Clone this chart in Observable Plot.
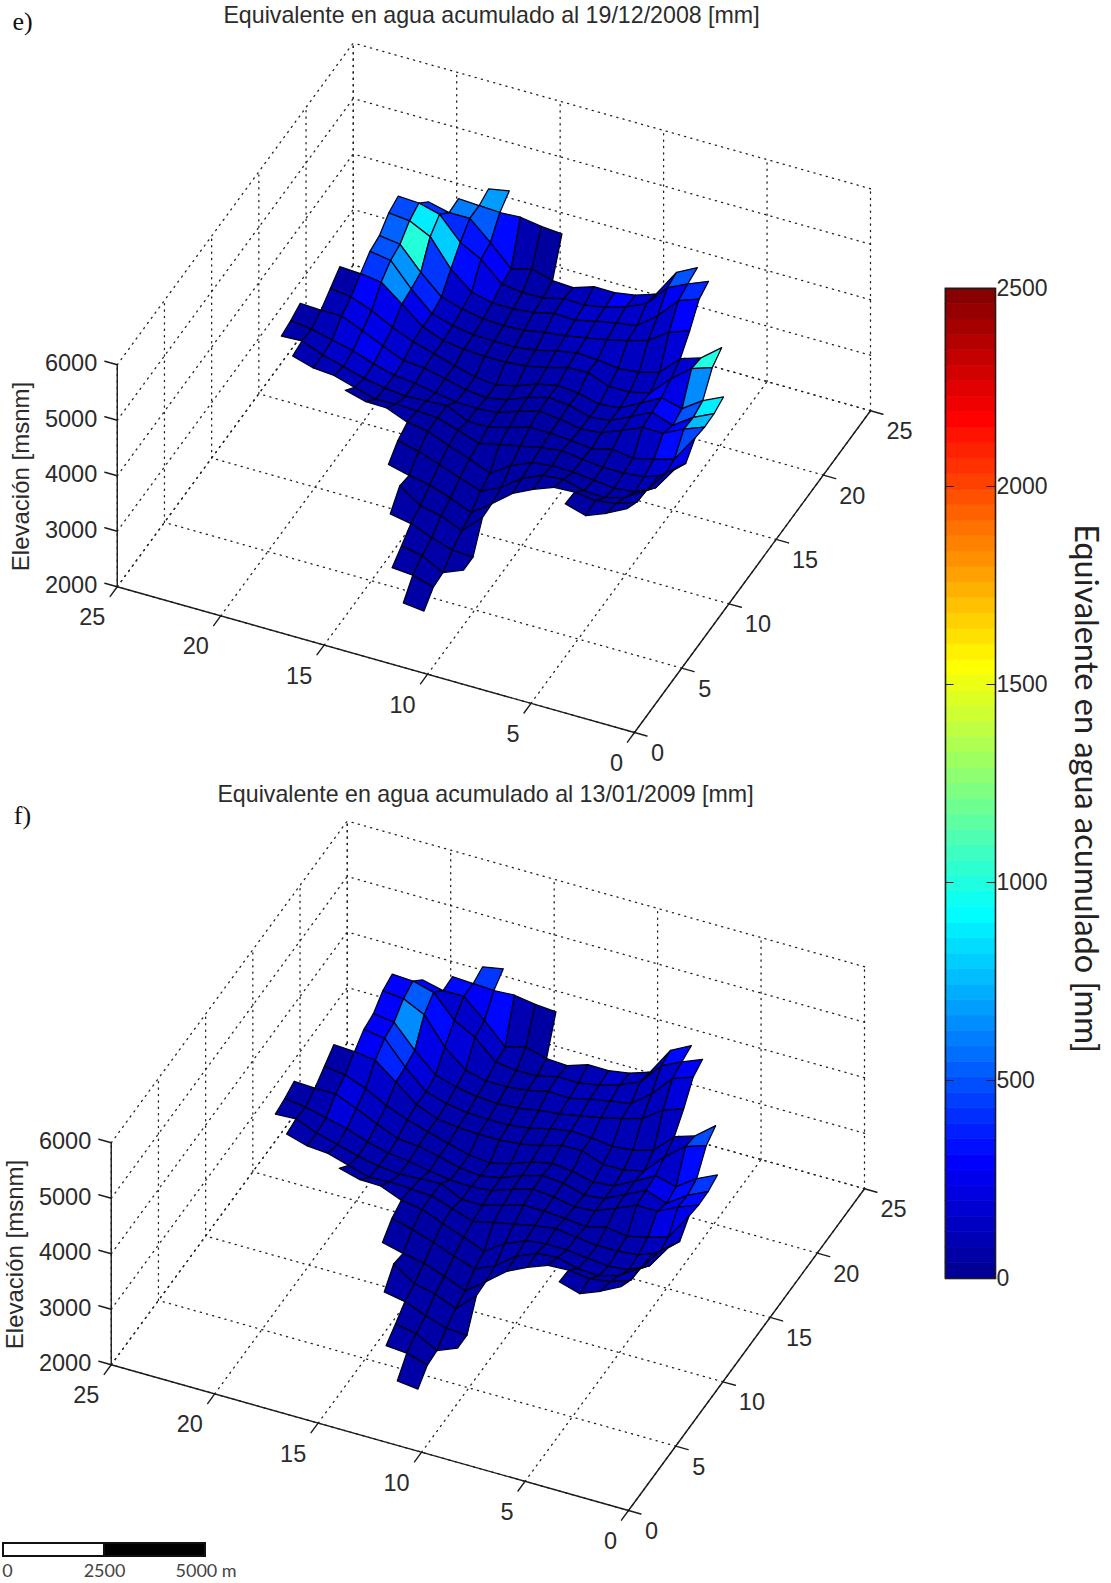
<!DOCTYPE html>
<html><head><meta charset="utf-8">
<script src="https://cdn.jsdelivr.net/npm/d3@7"></script>
<script src="https://cdn.jsdelivr.net/npm/@observablehq/plot@0.6"></script>
<style>
html,body{margin:0;padding:0;background:#fff}
#page{position:relative;width:1111px;height:1583px;overflow:hidden;background:#fff}
</style></head><body><div id="page"></div>
<script>
// ---------- values ----------
const gridTicks=[0,5,10,15,20,25];
const elevationTicks=[2000,3000,4000,5000,6000];
const colorTicks=[0,500,1000,1500,2000,2500];
const scaleStops=[0,2500,5000];

// grid rows: u index, first v index, elevation in m at each v
const rowU=[24,23,22,21,20,19,18,17,16,15,14,13,12,11,10,9,8,7,6,5,4];
const rowFirstV=[17,14,7,6,6,6,4,4,3,3,3,3,3,3,3,3,4,11,11,12,12];
const elevationRows=[
[4410,4340],
[4180,4210,4270,4250,4270,4290],
[4540,4350,3850,3730,3670,3670,3550,3570,3670,3570,3940,4270,4270,4360],
[4630,4480,4300,3910,3750,3640,3570,3580,3490,3480,3530,3870,4070,4470,4570,4590],
[4540,4410,4030,3750,3690,3620,3530,3550,3460,3420,3420,3510,3820,4300,4480,4520],
[4200,4070,3820,3710,3620,3550,3480,3440,3370,3350,3370,3440,3550,3890,4290,4340],
[4340,4050,3930,3580,3480,3440,3490,3510,3440,3350,3300,3300,3310,3370,3480,3820,4230,4290],
[4210,4090,3800,3440,3350,3350,3490,3480,3370,3300,3260,3260,3280,3330,3480,3780,4070,4120,4140],
[4020,3850,3600,3690,3490,3300,3260,3350,3390,3310,3170,3080,3120,3220,3330,3440,3590,3790,3930,3980],
[3950,3780,3530,3660,3480,3300,3260,3370,3400,3300,3150,3080,3120,3220,3300,3330,3490,3660,3820,3820,3840],
[3940,3800,3620,3620,3460,3310,3280,3350,3390,3280,3150,3120,3130,3190,3260,3300,3400,3530,3620,3710,3760],
[3980,3490,3380,3300,3350,3260,3300,3330,3330,3220,3120,3120,3300,3280,3260,3300,3370,3480,3580,3730,3710],
[3750,3440,3300,3260,3260,3300,3350,3300,3220,3150,3060,3190,3310,3330,3350,3330,3440,3550,3580,3690],
[3910,3440,3260,3220,3260,3300,3310,3260,3100,2860,3010,3150,3300,3360,3510,3520,3620,3730],
[4050,3620,3390,3280,3300,3400,3370,3210,2940,2770,2900,3040,3170,3260],
[4200,3640,3510,3460,3510,3490,3350,3170,2880,2610,2770,2900,2970,3060],
[3760,3570,3420,3530,null,null,null,2860,2520,2680,2760,3010],
[2380,2400,2520,2670,2740],
[2380,2230,2430,2500],
[2200,2310,2340],
[2000,2040]
];

// accumulated water per cell (cell named by its lower u, v corner)
const cellU=[23,22,21,20,19,18,17,16,15,14,13,12,11,10,9,8,7,6,5,4];
const cellFirstV=[17,14,7,6,6,6,4,4,3,3,3,3,3,3,3,4,11,11,12,12];
const sweDec2008=[
[680],
[40,90,320,520,600],
[500,220,150,290,140,120,90,70,90,290,340,400,420],
[400,280,170,150,150,150,130,90,80,90,220,320,800,875,480],
[300,150,130,130,130,130,110,80,70,80,110,160,430,1010,540],
[190,130,130,130,130,120,90,70,60,70,90,130,380,660,500],
[1000,170,150,120,110,110,110,90,70,60,60,70,90,140,240,640,430],
[640,230,280,130,110,100,90,80,70,60,60,70,80,110,160,250,300,60],
[880,500,310,130,110,90,80,70,60,60,50,60,70,80,110,170,230,220,100,60],
[760,300,170,120,90,80,70,60,50,50,50,60,70,80,110,190,260,190,110,60],
[470,320,130,100,80,70,60,50,50,50,50,50,60,70,80,130,160,150,100,70],
[240,170,110,80,70,60,50,50,50,50,50,50,50,60,70,80,100,100,90],
[170,120,90,70,60,50,50,50,50,50,50,50,50,60,60,60],
[140,100,70,60,50,50,50,50,50,50,50,50,50],
[120,80,60,50,50,50,50,50,50,50,50,50,50],
[70,60,50,null,null,null,null,50,50,50,50],
[60,60,60,60],
[60,60,60],
[60,60],
[60]
];
const sweJan2009=[
[430],
[50,90,310,280,320],
[320,150,110,150,100,90,80,70,90,150,150,170,300],
[280,160,120,110,110,110,100,80,70,80,110,190,320,520,300],
[200,120,100,100,100,100,90,70,60,70,90,120,230,640,300],
[130,100,100,100,100,90,80,70,60,70,80,100,200,430,280],
[480,130,120,100,90,90,90,80,70,60,60,70,80,100,140,380,280],
[320,160,190,100,90,80,80,70,70,60,60,70,70,90,100,150,170,60],
[430,320,250,100,90,80,70,70,60,60,60,60,70,70,80,100,130,210,80,60],
[320,240,130,90,80,70,70,60,60,60,60,60,60,70,80,90,130,200,90,60],
[260,220,100,80,70,70,60,60,60,60,60,60,60,70,70,80,90,100,80,70],
[160,120,80,70,70,60,60,60,60,60,60,60,60,60,70,70,80,80,80],
[140,100,80,70,60,60,60,60,60,60,60,60,60,60,60,60],
[120,90,70,60,60,60,60,60,60,50,50,50,50],
[110,80,60,60,60,50,50,50,50,50,50,50,50],
[70,60,60,null,null,null,null,50,50,50,50],
[60,60,60,60],
[60,60,60],
[60,60],
[60]
];

// jet colour map of the bar: 64 bands over 0..2500
const jetStops=[0,297,922,1547,2172,2500];
const jetColors=["#00008f","#0000ff","#00ffff","#ffff00","#ff0000","#800000"];
const bandCount=64;

// ---------- view of the 3-D box (orthographic) ----------
const view={ox:634,oy:732,ux:9.44,uy:-12.87,vx:-20.69,vy:-5.83,zk:0.0555};
const px=(u,v)=>view.ox+view.ux*u+view.vx*v;
const py=(u,v,z)=>view.oy+view.uy*u+view.vy*v-view.zk*(z-2000);
const elevationAt=new Map();
rowU.forEach((u,i)=>elevationRows[i].forEach((z,k)=>{if(z!=null)elevationAt.set(u+"_"+(rowFirstV[i]+k),z)}));

function quads(table){
  const out=[];
  cellU.forEach((u,i)=>{
    const row=table[i];
    for(let k=row.length-1;k>=0;k--){
      const v=cellFirstV[i]+k, swe=row[k];
      if(swe==null) continue;
      const corners=[[u,v],[u+1,v],[u+1,v+1],[u,v+1]];
      if(!corners.every(([a,b])=>elevationAt.has(a+"_"+b))) continue;
      corners.forEach(([a,b])=>out.push({id:u+"_"+v,swe,u:a,v:b,z:elevationAt.get(a+"_"+b)}));
    }
  });
  return out;
}
function seg(list,id,a,b){ list.push({id,...a},{id,...b}); }
function gridLines(){
  const g=[];
  for(const k of gridTicks){
    seg(g,"fu"+k,{u:k,v:0,z:2000},{u:k,v:25,z:2000});
    seg(g,"fv"+k,{u:0,v:k,z:2000},{u:25,v:k,z:2000});
    seg(g,"wu"+k,{u:25,v:k,z:2000},{u:25,v:k,z:6000});
    seg(g,"wv"+k,{u:k,v:25,z:2000},{u:k,v:25,z:6000});
  }
  for(const z of elevationTicks){
    seg(g,"hu"+z,{u:25,v:0,z},{u:25,v:25,z});
    seg(g,"hv"+z,{u:0,v:25,z},{u:25,v:25,z});
  }
  return g;
}
const axisLines=[];
seg(axisLines,"a",{u:0,v:0,z:2000},{u:25,v:0,z:2000});
seg(axisLines,"b",{u:0,v:0,z:2000},{u:0,v:25,z:2000});
seg(axisLines,"c",{u:0,v:25,z:2000},{u:0,v:25,z:6000});
for(const k of gridTicks){
  seg(axisLines,"tu"+k,{u:k,v:0,z:2000},{u:k,v:-0.6,z:2000});
  seg(axisLines,"tv"+k,{u:0,v:k,z:2000},{u:-0.75,v:k,z:2000});
}
for(const z of elevationTicks) seg(axisLines,"tz"+z,{u:0,v:25,z},{u:0,v:25.6,z});

const sans="'Liberation Sans',Arial,sans-serif";
const ink="#2b2b2b";
const colorOpts={type:"linear",domain:jetStops,range:jetColors,interpolate:"rgb"};

function panel({title,letter,table,dx,dy,titleX,titleY,letterY,w,h}){
  const X=d=>px(d.u,d.v)+dx, Y=d=>py(d.u,d.v,d.z)+dy;
  return Plot.plot({
    width:w,height:h,margin:0,
    style:{background:"transparent",overflow:"visible"},
    x:{domain:[0,w],range:[0,w],axis:null},
    y:{domain:[0,h],range:[0,h],axis:null},
    color:colorOpts,
    marks:[
      Plot.line(gridLines(),{x:X,y:Y,z:"id",stroke:"#222",strokeWidth:1.3,strokeDasharray:"1.2,5.2",strokeLinecap:"round"}),
      Plot.line(axisLines,{x:X,y:Y,z:"id",stroke:"#1c1c1c",strokeWidth:1.4}),
      Plot.line(quads(table),{x:X,y:Y,z:"id",fill:"swe",stroke:"#000018",strokeWidth:1.25,curve:"linear-closed"}),
      Plot.text(gridTicks,{x:k=>px(k,0)+dx+(k<10?23:29),y:k=>py(k,0,2000)+dy+21,text:String,fontSize:23.5,fontFamily:sans,fill:ink}),
      Plot.text(gridTicks,{x:k=>px(0,k)+dx-(k<10?18:25),y:k=>py(0,k,2000)+dy+31,text:String,fontSize:23.5,fontFamily:sans,fill:ink}),
      Plot.text(elevationTicks,{x:()=>px(0,25)+dx-20,y:z=>py(0,25,z)+dy-1,text:String,textAnchor:"end",fontSize:23.5,fontFamily:sans,fill:ink}),
      Plot.text(["Elevación [msnm]"],{x:()=>21+dx,y:()=>476+dy,text:d=>d,rotate:-90,fontSize:24,fontFamily:sans,fill:ink}),
      Plot.text([title],{x:()=>titleX,y:()=>titleY,text:d=>d,fontSize:23.2,fontFamily:sans,fill:ink}),
      Plot.text([letter],{x:()=>22,y:()=>letterY,text:d=>d,fontSize:26,fontFamily:"'Liberation Serif',serif",fill:"#111"})
    ]
  });
}
const page=document.getElementById("page");
function place(node,left,top){node.style.position="absolute";node.style.left=left+"px";node.style.top=top+"px";node.style.maxWidth="none";page.appendChild(node);}

place(panel({title:"Equivalente en agua acumulado al 19/12/2008 [mm]",letter:"e)",table:sweDec2008,dx:0,dy:0,titleX:491,titleY:15,letterY:21,w:920,h:775}),0,0);
const fTop=775;
place(panel({title:"Equivalente en agua acumulado al 13/01/2009 [mm]",letter:"f)",table:sweJan2009,dx:-6,dy:778-fTop,titleX:485,titleY:794-fTop,letterY:815-fTop,w:920,h:785}),0,fTop);

// colour bar
const bands=d3.range(bandCount).map(i=>({lo:i*2500/bandCount,hi:(i+1)*2500/bandCount}));
place(Plot.plot({
  width:191,height:1030,marginLeft:25,marginRight:116,marginTop:18,marginBottom:22,
  style:{background:"transparent",overflow:"visible"},
  x:{domain:[0,1],axis:null},
  y:{domain:[0,2500],axis:null},
  color:colorOpts,
  marks:[
    Plot.rect(bands,{x1:()=>0,x2:()=>1,y1:"lo",y2:"hi",fill:d=>(d.lo+d.hi)/2,stroke:d=>(d.lo+d.hi)/2,strokeWidth:0.6}),
    Plot.ruleY(colorTicks,{x1:()=>0,x2:()=>0.17,stroke:"#222",strokeWidth:1}),
    Plot.ruleY(colorTicks,{x1:()=>0.83,x2:()=>1,stroke:"#222",strokeWidth:1}),
    Plot.frame({stroke:"#1c1c1c",strokeWidth:1.6}),
    Plot.text(colorTicks,{x:()=>1,y:d=>d,dx:1,text:String,textAnchor:"start",fontSize:23,fontFamily:sans,fill:ink}),
    Plot.text(["Equivalente en agua acumulado [mm]"],{x:()=>1,y:()=>1237,dx:90,text:d=>d,rotate:90,fontSize:32.5,fontFamily:"Lato,sans-serif",fill:"#222"})
  ]
}),920,270);

// scale bar
place(Plot.plot({
  width:262,height:53,marginLeft:3,marginRight:57,marginTop:13,marginBottom:27,
  style:{background:"transparent",overflow:"visible"},
  x:{domain:[0,5000],axis:null},
  y:{domain:[0,1],axis:null},
  marks:[
    Plot.rect([0],{x1:()=>scaleStops[0],x2:()=>scaleStops[1],y1:()=>0,y2:()=>1,fill:"#fff",stroke:"#111",strokeWidth:2}),
    Plot.rect([0],{x1:()=>scaleStops[1],x2:()=>scaleStops[2],y1:()=>0,y2:()=>1,fill:"#000",stroke:"#111",strokeWidth:2}),
    Plot.text(["0"],{x:()=>0,y:()=>0,dx:4,dy:15,text:d=>d,fontSize:18,fontFamily:"Lato,sans-serif",fill:"#444"}),
    Plot.text(["2500"],{x:()=>2500,y:()=>0,dy:15,text:d=>d,fontSize:18,fontFamily:"Lato,sans-serif",fill:"#444"}),
    Plot.text(["5000 m"],{x:()=>5000,y:()=>0,dx:-30,dy:15,text:d=>d,textAnchor:"start",fontSize:18,fontFamily:"Lato,sans-serif",fill:"#444"})
  ]
}),0,1530);
</script></body></html>
